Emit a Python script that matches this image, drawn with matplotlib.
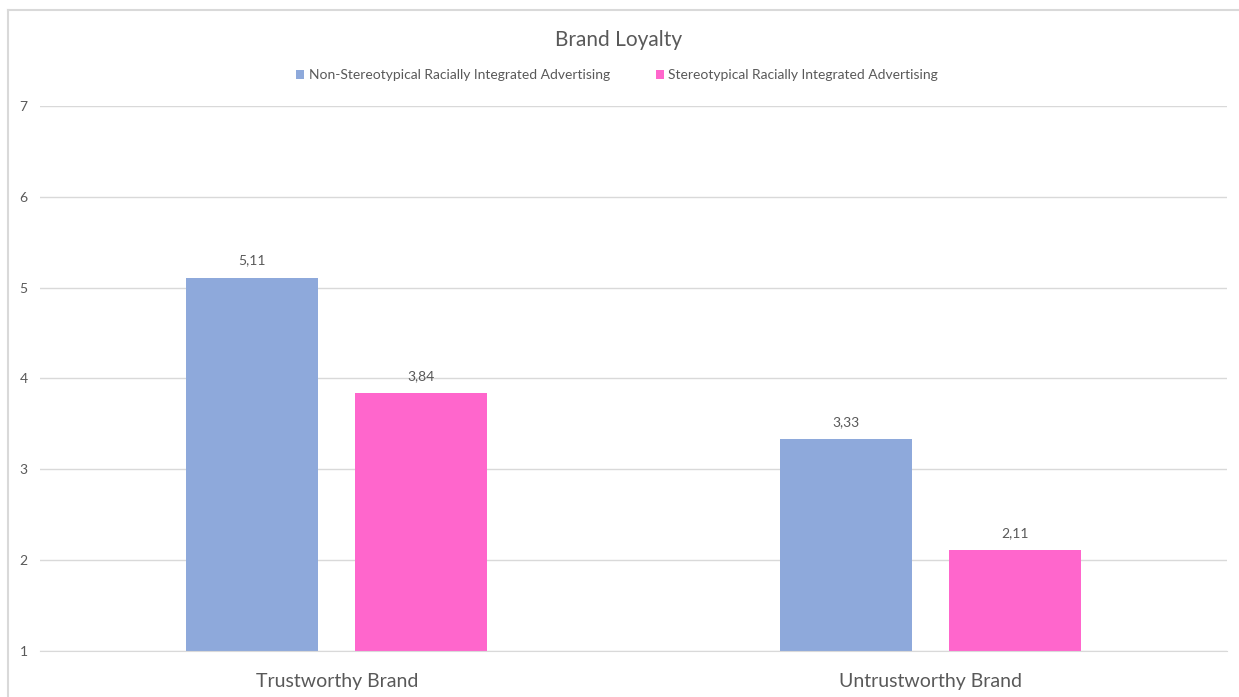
import matplotlib.pyplot as plt
from matplotlib.lines import Line2D
import numpy as np

# Chart data
categories = ["Trustworthy Brand", "Untrustworthy Brand"]
series_names = ["Non-Stereotypical Racially Integrated Advertising",
                "Stereotypical Racially Integrated Advertising"]
non_stereotypical = [5.11, 3.33]
stereotypical = [3.84, 2.11]
y_ticks = [1, 2, 3, 4, 5, 6, 7]

colors = ["#8EA9DB", "#FF66CC"]
text_color = "#595959"
grid_color = "#D9D9D9"

plt.rcParams['font.family'] = ['Lato', 'DejaVu Sans']

W, H = 1239, 697
fig = plt.figure(figsize=(W / 100, H / 100), dpi=100)
# axes placed in pixel terms: x 40..1227, y 106 (7) .. 651 (1)
ax = fig.add_axes([40 / W, 1 - 651 / H, (1227 - 40) / W, (651 - 106) / H])

x = np.arange(len(categories))
width = 0.2224
offset = width / 2 + 0.0312

bars1 = ax.bar(x - offset, non_stereotypical, width, bottom=0, color=colors[0],
               label=series_names[0], zorder=3)
bars2 = ax.bar(x + offset, stereotypical, width, bottom=0, color=colors[1],
               label=series_names[1], zorder=3)

for bars in (bars1, bars2):
    for b in bars:
        h = b.get_height()
        ax.annotate(f"{h:.2f}".replace(".", ","), (b.get_x() + b.get_width() / 2, h),
                    xytext=(0, 8), textcoords="offset points", ha="center", va="bottom",
                    fontsize=10, color=text_color)

ax.set_xlim(-0.5, 1.5)
ax.set_ylim(1, 7)
ax.set_yticks(y_ticks)
ax.set_yticklabels([str(t) for t in y_ticks], color=text_color, fontsize=10)
ax.set_xticks(x)
ax.set_xticklabels(categories, color=text_color, fontsize=14)
ax.tick_params(axis="both", length=0)
ax.tick_params(axis="y", pad=9)
ax.tick_params(axis="x", pad=16)
ax.yaxis.grid(True, color=grid_color, linewidth=1, zorder=0)
for side in ("top", "right", "left"):
    ax.spines[side].set_visible(False)
ax.spines["bottom"].set_color(grid_color)
ax.spines["bottom"].set_zorder(4)

fig.text(619 / W, 1 - 40 / H, "Brand Loyalty", ha="center", va="center",
         fontsize=15, color=text_color)

leg = fig.legend(handles=[bars1, bars2], labels=series_names, loc="center",
                 bbox_to_anchor=(617 / W, 1 - 75 / H), ncol=2, frameon=False,
                 fontsize=10, handlelength=0.6, handleheight=0.6, handletextpad=0.3,
                 columnspacing=3.3)
for t in leg.get_texts():
    t.set_color(text_color)

# outer chart border
fig.add_artist(Line2D([8 / W, 1], [1 - 10 / H, 1 - 10 / H], color="#D9D9D9", linewidth=1.5))
fig.add_artist(Line2D([8 / W, 8 / W], [0, 1 - 10 / H], color="#D9D9D9", linewidth=1.5))

fig.savefig("out.png", dpi=100)
